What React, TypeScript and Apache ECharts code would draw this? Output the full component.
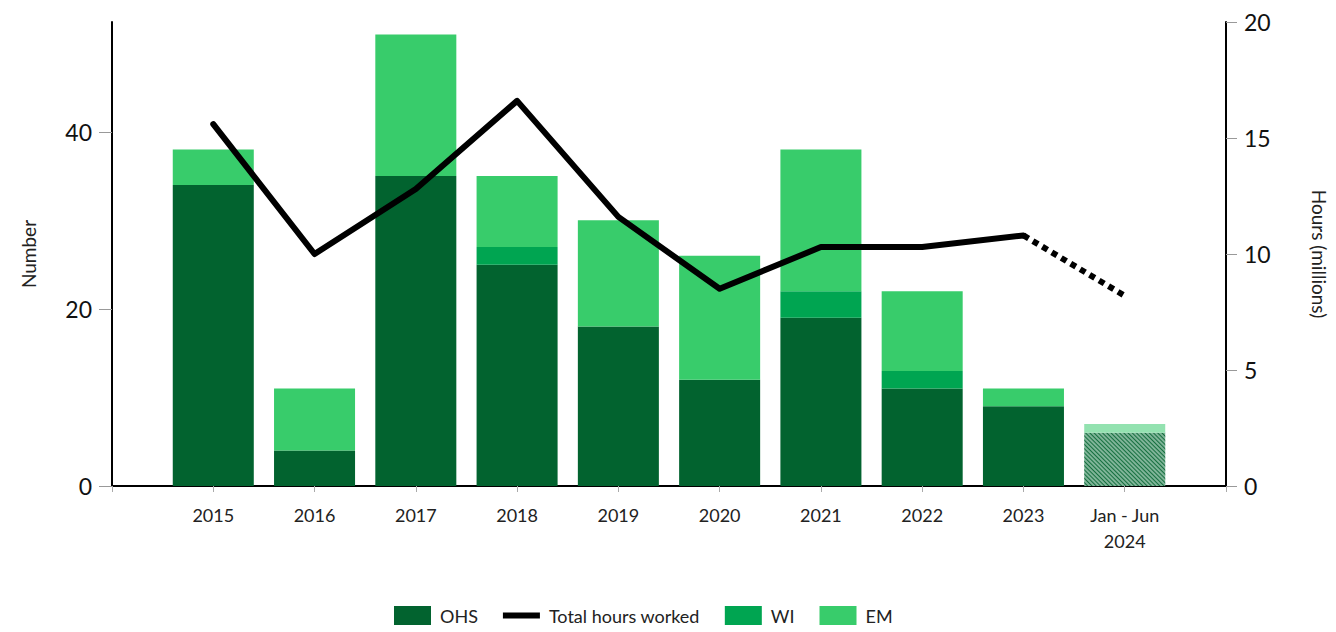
import React, { useEffect, useRef } from "react";
import * as echarts from "echarts";

const categories = ["2015", "2016", "2017", "2018", "2019", "2020", "2021", "2022", "2023", "Jan - Jun\n2024"];
const ohs = [34, 4, 35, 25, 18, 12, 19, 11, 9, 6];
const wi = [0, 0, 0, 2, 0, 0, 3, 2, 0, 0];
const em = [4, 7, 16, 8, 12, 14, 16, 9, 2, 1];
const hours = [15.6, 10.0, 12.8, 16.6, 11.6, 8.5, 10.3, 10.3, 10.8, 8.2];
const leftTicks = [0, 20, 40];
const rightTicks = [0, 5, 10, 15, 20];

const FONT = "Lato";
const C_OHS = "#02632f";
const C_WI = "#00a551";
const C_EM = "#38cc6b";

export default function App() {
  const ref = useRef<HTMLDivElement>(null);
  useEffect(() => {
    if (!ref.current) return;
    const chart = echarts.init(ref.current, null, { renderer: "svg" });
    const n = categories.length;
    const cats = ["", ...categories, ""];
    const partialIdx = n - 1;
    const hatch = (base: string, stripe: string) => ({
      color: base,
      decal: {
        symbol: "rect",
        symbolSize: 1,
        dashArrayX: [1, 0],
        dashArrayY: [1, 2],
        rotation: Math.PI / 4,
        color: stripe,
      },
    });
    const barData = (arr: number[], partialStyle: any) => [
      null,
      ...arr.map((v, i) => (i === partialIdx ? { value: v, itemStyle: partialStyle } : v)),
      null,
    ];
    const solidLine = [null, ...hours.map((v, i) => (i <= n - 2 ? v : null)), null];
    const dotLine = [null, ...hours.map((v, i) => (i >= n - 2 ? v : null)), null];

    chart.setOption({
      animation: false,
      textStyle: { fontFamily: FONT },
      grid: { left: 112, right: 110, top: 22, bottom: 146, containLabel: false, outerBoundsMode: "none" },
      legend: {
        top: 601,
        left: 389,
        itemWidth: 37,
        itemHeight: 19,
        itemGap: 25,
        textStyle: { fontSize: 18, color: "#222", fontFamily: FONT, padding: [0, 0, 0, 4] },
        data: [
          { name: "OHS", icon: "rect" },
          { name: "Total hours worked", icon: "path://M0,0H37V6H0Z" },
          { name: "WI", icon: "rect" },
          { name: "EM", icon: "rect" },
        ],
      },
      xAxis: {
        type: "category",
        boundaryGap: false,
        data: cats,
        axisLine: { lineStyle: { color: "#000", width: 2 } },
        axisTick: { show: true, interval: 0, length: 6, lineStyle: { color: "#aaa", width: 1 } },
        axisLabel: { interval: 0, fontSize: 18, color: "#222", margin: 16, lineHeight: 26, fontFamily: FONT },
        splitLine: { show: false },
      },
      yAxis: [
        {
          type: "value",
          min: 0,
          max: 52.4,
          position: "left",
          name: "Number",
          nameLocation: "middle",
          nameGap: 74,
          nameTextStyle: { fontSize: 19, color: "#222", fontFamily: FONT },
          axisLine: { show: true, lineStyle: { color: "#000", width: 2 } },
          axisTick: { show: true, length: 13, customValues: leftTicks, lineStyle: { color: "#999" } },
          axisLabel: { customValues: leftTicks, fontSize: 23, color: "#111", margin: 20, fontFamily: FONT },
          splitLine: { show: false },
        },
        {
          type: "value",
          min: 0,
          max: 20,
          interval: 5,
          position: "right",
          name: "Hours (millions)",
          nameLocation: "middle",
          nameRotate: -90,
          nameGap: 84,
          nameTextStyle: { fontSize: 19, color: "#222", fontFamily: FONT },
          axisLine: { show: true, lineStyle: { color: "#000", width: 2 } },
          axisTick: { show: true, length: 11, customValues: rightTicks, lineStyle: { color: "#999" } },
          axisLabel: { customValues: rightTicks, fontSize: 23, color: "#111", margin: 18, fontFamily: FONT },
          splitLine: { show: false },
        },
      ],
      series: [
        {
          name: "OHS",
          type: "bar",
          stack: "n",
          barWidth: "80%",
          itemStyle: { color: C_OHS },
          data: barData(ohs, hatch("#7fb498", "rgba(2,99,47,0.85)")),
        },
        {
          name: "WI",
          type: "bar",
          stack: "n",
          barWidth: "80%",
          itemStyle: { color: C_WI },
          data: barData(wi, hatch("#bfe8d0", "rgba(0,165,81,0.7)")),
        },
        {
          name: "EM",
          type: "bar",
          stack: "n",
          barWidth: "80%",
          itemStyle: { color: C_EM },
          data: barData(em, { color: "#93e2b0" }),
        },
        {
          name: "Total hours worked",
          type: "line",
          yAxisIndex: 1,
          z: 5,
          symbol: "none",
          connectNulls: false,
          itemStyle: { color: "#000" },
          lineStyle: { color: "#000", width: 6, cap: "round", join: "round" },
          data: solidLine,
        },
        {
          name: "Total hours worked",
          type: "line",
          yAxisIndex: 1,
          z: 5,
          symbol: "none",
          itemStyle: { color: "#000" },
          lineStyle: { color: "#000", width: 6, type: [6, 5], cap: "butt" },
          data: dotLine,
        },
      ],
    });
    return () => chart.dispose();
  }, []);
  return <div ref={ref} style={{ position: "absolute", left: 0, top: 0, width: 1336, height: 632 }} />;
}
